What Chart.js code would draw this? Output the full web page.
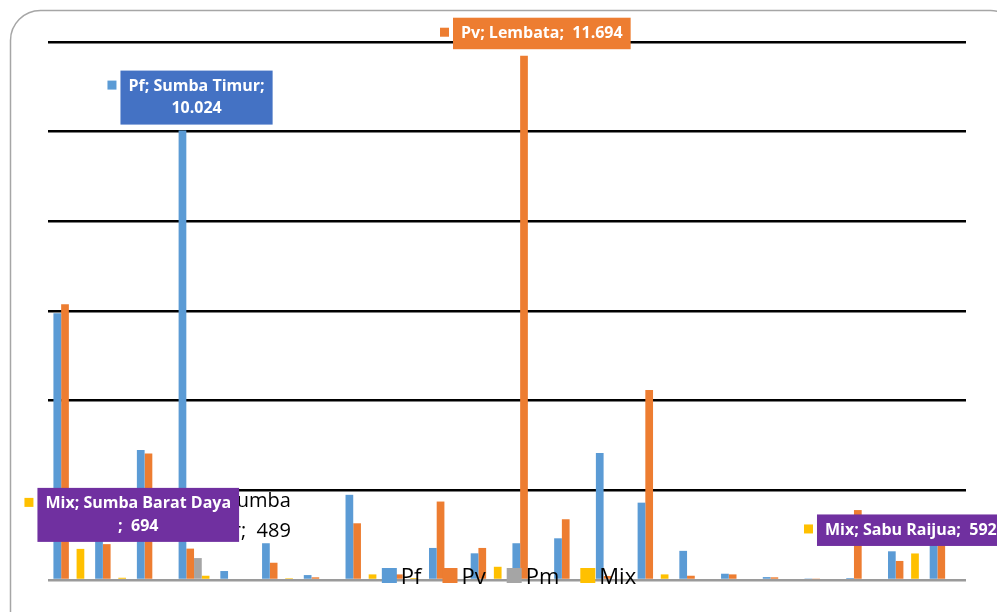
<!DOCTYPE html>
<html>
<head>
<meta charset="utf-8">
<script src="https://cdn.jsdelivr.net/npm/chart.js@4.4.1/dist/chart.umd.min.js"></script>
<style>
  html, body { margin: 0; padding: 0; background: #fff; }
  canvas { display: block; }
</style>
</head>
<body>
<canvas id="c" width="997" height="612"></canvas>
<script>
// ---- data ----
const categories = ["Sumba Barat Daya","Sumba Barat","Sumba Tengah","Sumba Timur","Kota Kupang","Kupang","TTS","TTU","Belu","Malaka","Alor","Lembata","Flores Timur","Sikka","Ende","Nagekeo","Ngada","Manggarai Timur","Manggarai","Manggarai Barat","Sabu Raijua","Rote Ndao"];
const pf  = [5950, 950, 2900, 10024, 200, 820, 110, 1900, 150, 715, 595, 820, 930, 2830, 1725, 650, 140, 65, 35, 45, 640, 1100];
const pv  = [6150, 800, 2820, 700, 0, 385, 60, 1265, 125, 1750, 715, 11694, 1355, 90, 4240, 95, 125, 60, 20, 1560, 425, 950];
const pm  = [0, 0, 0, 489, 0, 0, 0, 0, 0, 0, 0, 0, 0, 0, 0, 0, 0, 0, 0, 0, 0, 0];
const mix = [694, 50, 0, 95, 0, 40, 0, 125, 45, 0, 295, 0, 0, 30, 125, 0, 0, 0, 0, 0, 592, 0];
const seriesNames = ["Pf", "Pv", "Pm", "Mix"];
const yTicks = [0, 2000, 4000, 6000, 8000, 10000, 12000];

const colors = ["#5B9BD5", "#ED7D31", "#A5A5A5", "#FFC000"];

// callout labels: series index, category index, lines, box colour, offsets from the bar top
const callouts = [
  { ds: 0, idx: 3,  lines: ["Pf; Sumba Timur;", "10.024"], bg: "#4472C4", lx: -62, dy: -60 },
  { ds: 1, idx: 11, lines: ["Pv; Lembata;  11.694"], bg: "#ED7D31", lx: -71, dy: -38 },
  { ds: 3, idx: 0,  lines: ["Mix; Sumba Barat Daya", ";  694"], bg: "#7030A0", lx: -43, dy: -61 },
  { ds: 3, idx: 20, lines: ["Mix; Sabu Raijua;  592"], bg: "#7030A0", lx: -98, dy: -39 }
];
const hiddenLabel = { ds: 2, idx: 3, lines: ["Pm; Sumba", "Timur;  489"], dx: 93, dy: -51 };

const framePlugin = {
  id: 'frame',
  beforeDraw(chart) {
    const c = chart.ctx;
    c.save();
    c.fillStyle = '#fff';
    c.fillRect(0, 0, chart.width, chart.height);
    c.strokeStyle = '#a6a6a6';
    c.lineWidth = 1.5;
    c.beginPath();
    c.roundRect(10.5, 10.5, 1010, 640, 30);
    c.stroke();
    c.restore();
  }
};

const overlayPlugin = {
  id: 'overlay',
  afterDatasetsDraw(chart) {
    const c = chart.ctx;
    c.save();
    // hidden black label (partly covered)
    {
      const el = chart.getDatasetMeta(hiddenLabel.ds).data[hiddenLabel.idx];
      c.font = '20px "Open Sans"';
      c.fillStyle = '#000';
      c.textAlign = 'right';
      c.textBaseline = 'alphabetic';
      hiddenLabel.lines.forEach((t, i) => {
        c.fillText(t, el.x + hiddenLabel.dx, el.y + hiddenLabel.dy + i * 30);
      });
    }
    // callouts
    callouts.forEach(l => {
      const el = chart.getDatasetMeta(l.ds).data[l.idx];
      c.font = 'bold 16px "Open Sans"';
      const w = Math.max(...l.lines.map(t => c.measureText(t).width)) + 16;
      const lh = 22.5;
      const h = l.lines.length * lh + 9;
      const left = el.x + l.lx;
      const top = el.y + l.dy;
      const cx = left + w / 2;
      c.fillStyle = l.bg;
      c.fillRect(left, top, w, h);
      // legend key square
      c.fillStyle = colors[l.ds];
      c.fillRect(left - 13, top + 10, 9, 9);
      c.fillStyle = '#fff';
      c.textAlign = 'center';
      c.textBaseline = 'middle';
      l.lines.forEach((t, i) => {
        c.fillText(t, cx, top + 4.5 + lh * i + lh / 2);
      });
    });
    // legend
    const area = chart.chartArea;
    c.font = '22px "Open Sans"';
    const items = chart.data.datasets.map((d, i) => ({ label: d.label, color: d.backgroundColor, w: c.measureText(d.label).width }));
    const total = items.reduce((s, it) => s + 15 + 4 + it.w, 0) + 21 * (items.length - 1);
    let x = (area.left + area.right) / 2 - total / 2 + 2;
    const by = area.bottom + 3;
    items.forEach(it => {
      c.fillStyle = it.color;
      c.fillRect(x, by - 15, 15, 15);
      c.fillStyle = '#000';
      c.textAlign = 'left';
      c.textBaseline = 'alphabetic';
      c.fillText(it.label, x + 19, by + 1);
      x += 15 + 4 + it.w + 21;
    });
    c.restore();
  }
};

const datasets = [pf, pv, pm, mix].map((arr, i) => ({
  label: seriesNames[i],
  data: arr,
  backgroundColor: colors[i],
  borderWidth: 0,
  categoryPercentage: 0.74,
  barPercentage: 1.0
}));

new Chart(document.getElementById('c'), {
  type: 'bar',
  data: { labels: categories, datasets },
  options: {
    responsive: false,
    animation: false,
    devicePixelRatio: 1,
    layout: { padding: { left: 48, right: 31, top: 42, bottom: 32 } },
    plugins: { legend: { display: false }, tooltip: { enabled: false } },
    scales: {
      x: { display: false },
      y: {
        min: 0, max: 12000,
        afterBuildTicks(scale) { scale.ticks = yTicks.map(v => ({ value: v })); },
        ticks: { display: false },
        border: { display: false },
        grid: {
          drawTicks: false,
          lineWidth: 2.5,
          color: ctx => (ctx.tick && ctx.tick.value === 0) ? '#9a9a9a' : '#000'
        }
      }
    }
  },
  plugins: [framePlugin, overlayPlugin]
});
</script>
</body>
</html>
